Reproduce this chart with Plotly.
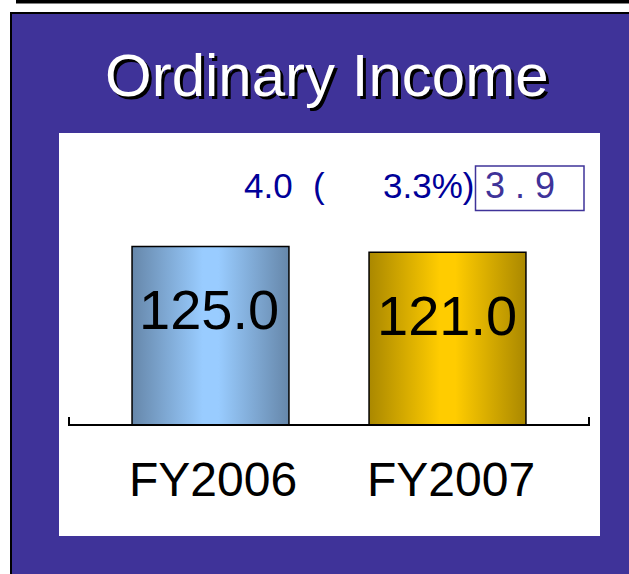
import plotly.graph_objects as go

# ---- data ----
categories = ["FY2006", "FY2007"]
values = [125.0, 121.0]
value_labels = ["125.0", "121.0"]
edge_colors = ["#6687aa", "#aa8800"]
center_colors = ["#99ccff", "#ffcc00"]
title_text = "Ordinary Income"
change_value = "4.0"
change_pct = "3.3%)"
open_paren = "("
boxed_value = "3 . 9"

W, H = 629, 574
PURPLE = "#3f3399"
NAVY = "#000099"
FONT = "Liberation Sans, Arial, sans-serif"


def px(x):
    return x / W


def py(y):
    return 1 - y / H


fig = go.Figure()

bar_w = 0.662
for i, (cat, v) in enumerate(zip(categories, values)):
    xs = [i - bar_w / 2, i + bar_w / 2, i + bar_w / 2, i - bar_w / 2, i - bar_w / 2]
    ys = [0, 0, v, v, 0]
    fig.add_trace(go.Scatter(
        x=xs, y=ys, mode="lines", fill="toself",
        line=dict(color="black", width=1.5),
        fillgradient=dict(type="horizontal",
                          colorscale=[[0, edge_colors[i]], [0.45, center_colors[i]],
                                      [0.55, center_colors[i]], [1, edge_colors[i]]]),
        hoverinfo="skip", showlegend=False, name=cat))

shapes = [
    # top black rule
    dict(type="rect", xref="paper", yref="paper", x0=px(16), x1=px(640), y0=py(3.5), y1=py(-1),
         fillcolor="black", line=dict(width=0), layer="below"),
    # purple panel
    dict(type="rect", xref="paper", yref="paper", x0=px(11), x1=px(640), y0=py(590), y1=py(13),
         fillcolor=PURPLE, line=dict(color="black", width=2), layer="below"),
    # white inner panel
    dict(type="rect", xref="paper", yref="paper", x0=px(59), x1=px(600), y0=py(536), y1=py(133),
         fillcolor="white", line=dict(width=0), layer="below"),
    # baseline with end ticks
    dict(type="path", xref="paper", yref="paper",
         path=f"M {px(69)} {py(417)} L {px(69)} {py(425)} L {px(589)} {py(425)} L {px(589)} {py(417)}",
         line=dict(color="black", width=2), layer="above"),
    # box around value
    dict(type="rect", xref="paper", yref="paper", x0=px(475.5), x1=px(584), y0=py(210.5), y1=py(166),
         fillcolor="rgba(0,0,0,0)", line=dict(color=PURPLE, width=1.5)),
]

annotations = [
    dict(text=title_text, x=px(327), y=py(75), xref="paper", yref="paper", showarrow=False,
         xanchor="center", yanchor="middle",
         font=dict(family=FONT, size=60, color="white", shadow="3px 3px 0px black")),
    dict(text=change_value, x=px(268), y=py(185), xref="paper", yref="paper", showarrow=False,
         xanchor="center", yanchor="middle", font=dict(family=FONT, size=35, color=NAVY)),
    dict(text=open_paren, x=px(319), y=py(185), xref="paper", yref="paper", showarrow=False,
         xanchor="center", yanchor="middle", font=dict(family=FONT, size=35, color=NAVY)),
    dict(text=change_pct, x=px(428), y=py(185), xref="paper", yref="paper", showarrow=False,
         xanchor="center", yanchor="middle", font=dict(family=FONT, size=35, color=NAVY)),
    dict(text=boxed_value, x=px(520), y=py(185), xref="paper", yref="paper", showarrow=False,
         xanchor="center", yanchor="middle", font=dict(family=FONT, size=36, color=PURPLE)),
]

for i, (cat, v, lab) in enumerate(zip(categories, values, value_labels)):
    annotations.append(dict(text=lab, x=i, y=v, xref="x", yref="y", showarrow=False,
                            xanchor="center", yanchor="middle", yshift=-63, xshift=-1,
                            font=dict(family=FONT, size=56, color="black")))
    annotations.append(dict(text=cat, x=i, y=py(479), xref="x", yref="paper", showarrow=False,
                            xanchor="center", yanchor="middle", xshift=3,
                            font=dict(family=FONT, size=48, color="black")))

fig.update_layout(
    width=W, height=H,
    margin=dict(l=0, r=0, t=0, b=0),
    paper_bgcolor="white", plot_bgcolor="rgba(0,0,0,0)",
    xaxis=dict(domain=[px(69), px(589)], range=[-0.597, 1.597], visible=False, fixedrange=True),
    yaxis=dict(domain=[py(425), py(133)], range=[0, 204.6], visible=False, fixedrange=True),
    shapes=shapes, annotations=annotations, showlegend=False,
)

fig.write_html("out.html", config={"displayModeBar": False},
               post_script="document.body.style.margin='0';")
